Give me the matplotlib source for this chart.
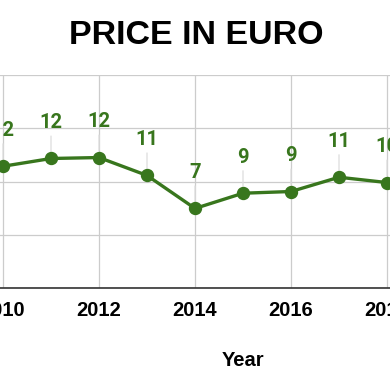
import matplotlib.pyplot as plt

# data
years = [2010, 2011, 2012, 2013, 2014, 2015, 2016, 2017, 2018]
price = [11.43, 12.16, 12.25, 10.57, 7.47, 8.9, 9.06, 10.4, 9.9]
price_labels = ['12', '12', '12', '11', '7', '9', '9', '11', '10']
year_ticks = [2010, 2012, 2014, 2016, 2018]
y_grid = [0, 5, 10, 15, 20]

green = '#38761d'

fig = plt.figure(figsize=(3.9, 3.9), dpi=100)
ax = fig.add_axes([0, 1 - 288 / 390, 1, (288 - 75) / 390])

ax.plot(years, price, color=green, lw=2.4, marker='o', ms=8.6, zorder=3, clip_on=False)

# value labels with thin leader lines
for x, v, lab in zip(years, price, price_labels):
    ax.annotate(lab, xy=(x, v), xytext=(0, 26), textcoords='offset points',
                ha='center', va='center', color=green, fontsize=14.5,
                fontweight='bold', family='Roboto',
                arrowprops=dict(arrowstyle='-', color='#dddddd', lw=0.9,
                                shrinkA=1, shrinkB=5), zorder=2)

ax.set_xlim(2010 - 3 / 48, 2010 + 387 / 48)
ax.set_ylim(0, 20)
ax.set_xticks(year_ticks)
ax.set_xticklabels([str(y) for y in year_ticks], fontsize=14.5, fontweight='bold',
                   family='Liberation Sans')
ax.set_yticks(y_grid)
ax.set_yticklabels([])
ax.tick_params(length=0, pad=9)
ax.grid(True, color='#cccccc', lw=0.9)
ax.set_axisbelow(True)

for s in ['left', 'right', 'top']:
    ax.spines[s].set_visible(False)
ax.spines['bottom'].set_color('#333333')
ax.spines['bottom'].set_linewidth(1.2)

fig.text(196 / 390, 1 - 35 / 390, 'PRICE IN EURO', ha='center', va='center',
         fontsize=24.5, fontweight='bold', family='Liberation Sans')
fig.text(243 / 390, 1 - 360 / 390, 'Year', ha='center', va='center',
         fontsize=14.5, fontweight='bold', family='Liberation Sans')

fig.savefig('out.png', dpi=100)
